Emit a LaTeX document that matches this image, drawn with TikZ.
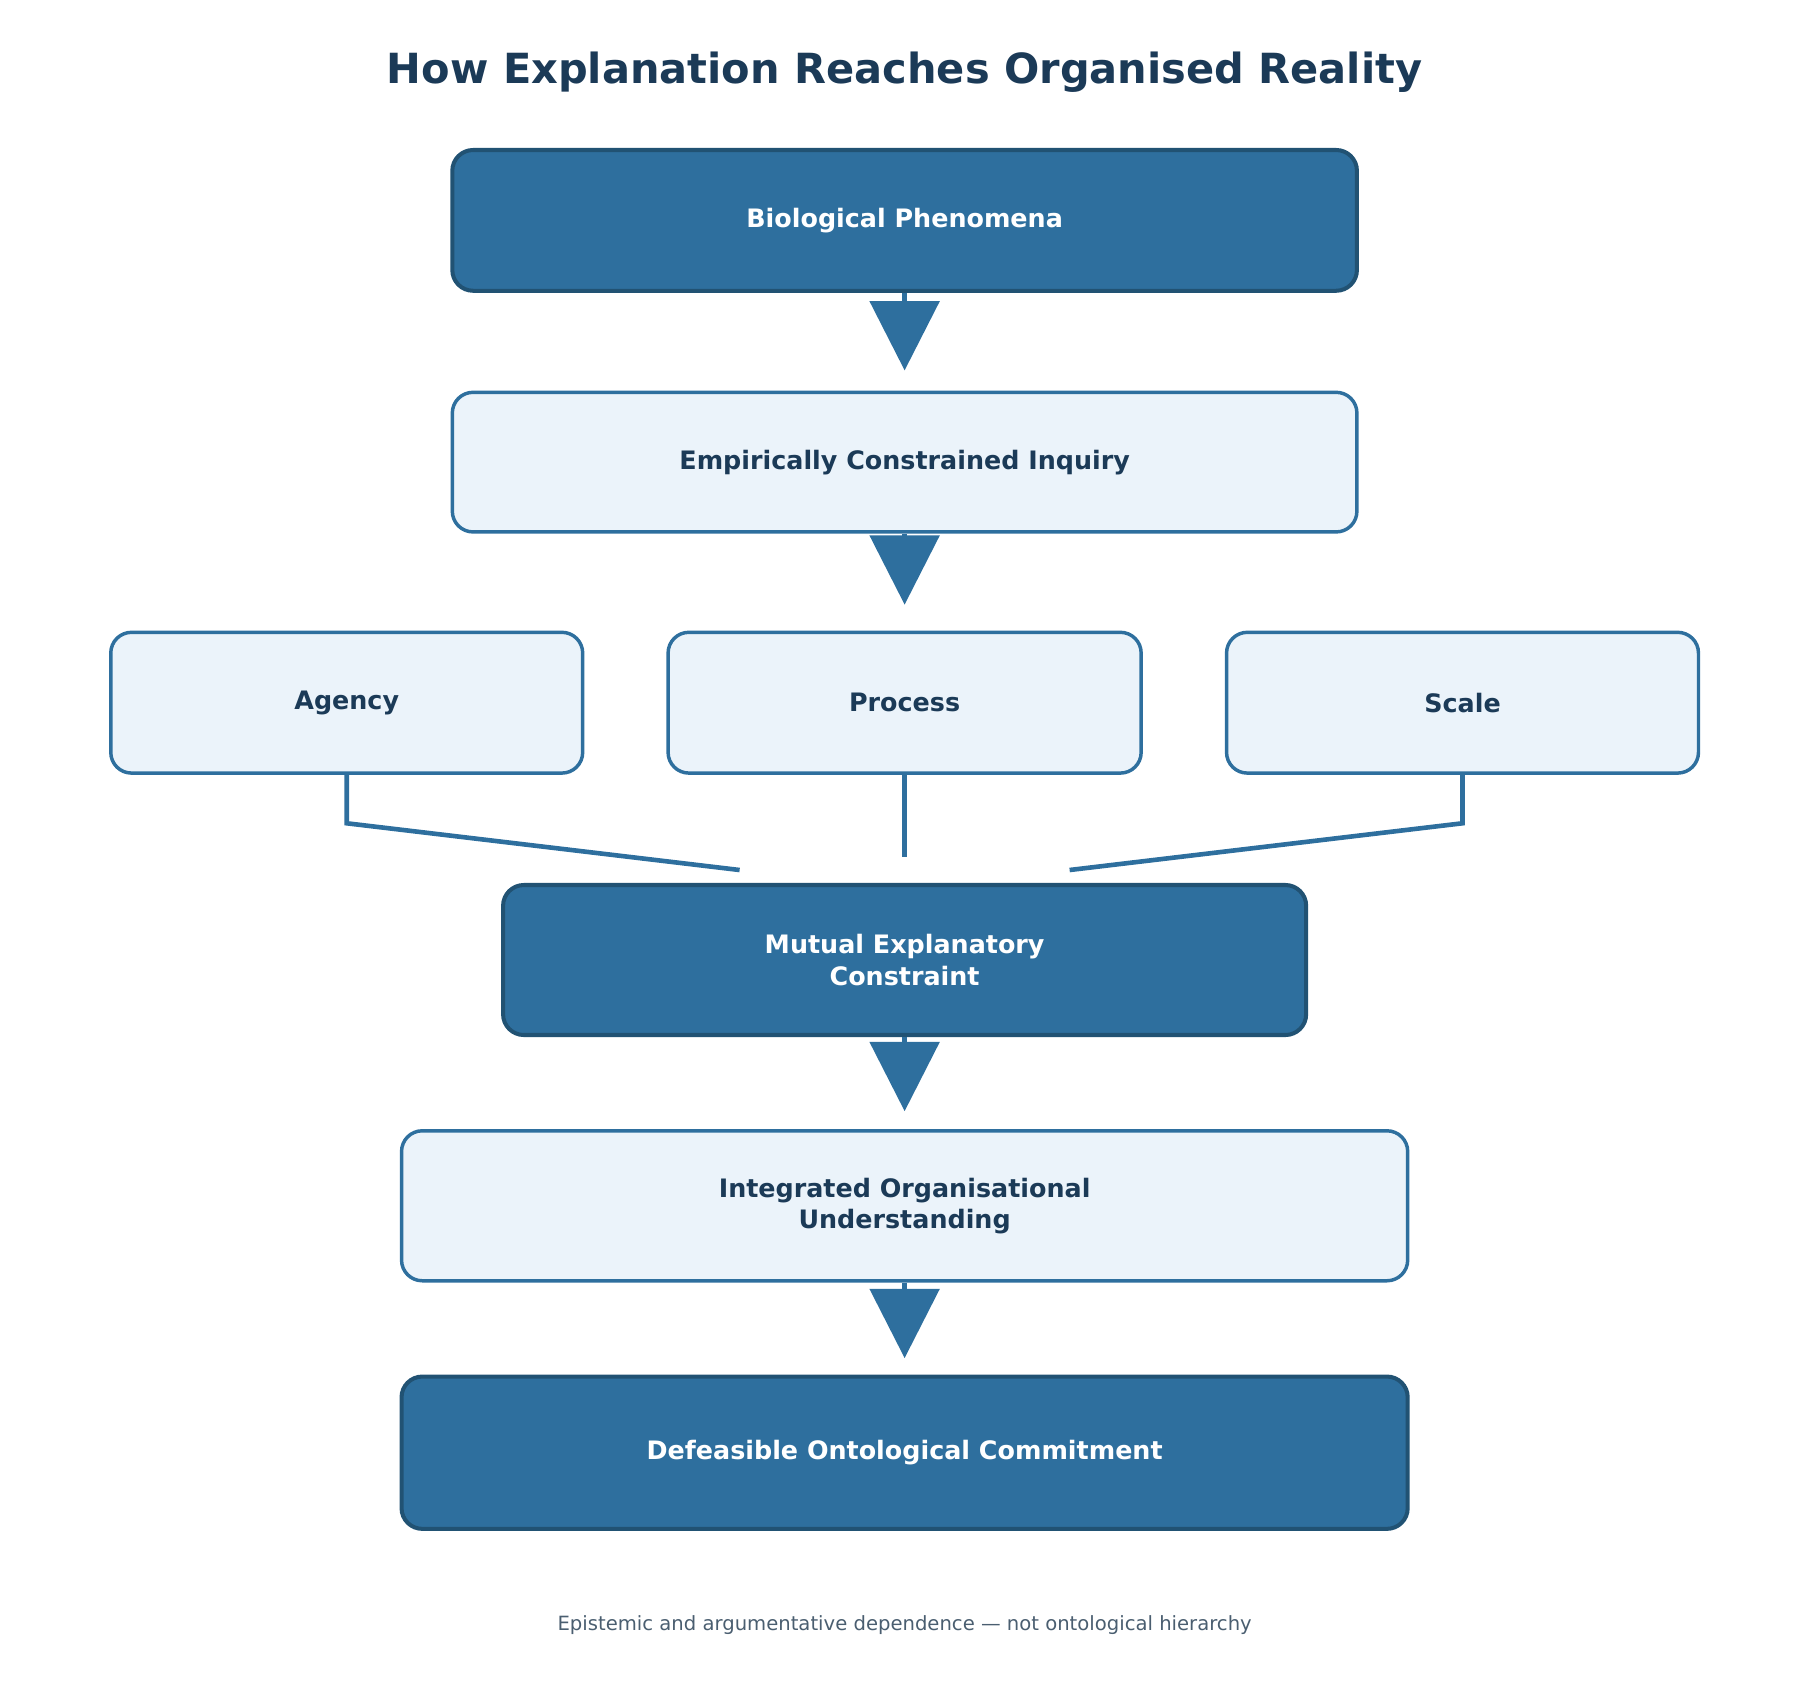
\documentclass[tikz,border=0pt]{standalone}
\usepackage{fontspec}
\setmainfont{DejaVu Sans}
\usetikzlibrary{arrows.meta,positioning}
\definecolor{darkbox}{RGB}{46,111,158}
\definecolor{darkedge}{RGB}{33,82,115}
\definecolor{lightbox}{RGB}{235,243,250}
\definecolor{navytext}{RGB}{27,58,87}
\definecolor{notegray}{RGB}{74,94,112}
\tikzset{every picture/.style={line width=3pt}}
\tikzset{
  darkstep/.style={draw=darkedge,fill=darkbox,rounded corners=18pt,text=white,font=\fontsize{22}{27}\selectfont\bfseries,align=center,line width=3.5pt},
  lightstep/.style={draw=darkbox,fill=lightbox,rounded corners=18pt,text=navytext,font=\fontsize{22}{27}\selectfont\bfseries,align=center,line width=3pt},
  flow/.style={draw=darkbox,line width=4pt,-{Triangle[length=60pt,width=60pt]}},
  feeder/.style={draw=darkbox,line width=4pt}
}
\begin{document}
\begin{tikzpicture}[x=1pt,y=-1pt]
\useasboundingbox (0,0) rectangle (1560,1473);

% title
\node (title) at (784,63) {\fontsize{36}{43}\selectfont\bfseries\color{navytext}How Explanation Reaches Organised Reality};

% boxes
\node[darkstep,minimum width=784pt,minimum height=122pt] (bio) at (784,191) {Biological Phenomena};
\node[lightstep,minimum width=784pt,minimum height=121pt] (inquiry) at (784,400.5) {Empirically Constrained Inquiry};
\node[lightstep,minimum width=409pt,minimum height=122pt] (agency) at (300.5,609) {Agency};
\node[lightstep,minimum width=410pt,minimum height=122pt] (process) at (784,609) {Process};
\node[lightstep,minimum width=409pt,minimum height=122pt] (scale) at (1267.5,609) {Scale};
\node[darkstep,minimum width=696pt,minimum height=130pt] (mutual) at (784,832) {Mutual Explanatory\\Constraint};
\node[lightstep,minimum width=872pt,minimum height=130pt] (integrated) at (784,1045) {Integrated Organisational\\Understanding};
\node[darkstep,minimum width=872pt,minimum height=132pt] (commit) at (784,1259) {Defeasible Ontological Commitment};

% arrow tips
\coordinate (t1) at (784,321);
\coordinate (t2) at (784,524);
\coordinate (t3) at (784,963);
\coordinate (t4) at (784,1177);
\coordinate (ja) at (641,754);
\coordinate (jp) at (784,743);
\coordinate (js) at (927,754);

\draw[flow] (bio.south) -- (t1);
\draw[flow] (inquiry.south) -- (t2);
\draw[flow] (mutual.south) -- (t3);
\draw[flow] (integrated.south) -- (t4);

% converging links
\draw[feeder] (agency.south) -- ++(0,42) -- (ja);
\draw[feeder] (process.south) -- (jp);
\draw[feeder] (scale.south) -- ++(0,42) -- (js);

% note
\node (note) at (784,1408) {\fontsize{17}{20}\selectfont\color{notegray}Epistemic and argumentative dependence — not ontological hierarchy};
\end{tikzpicture}
\end{document}
